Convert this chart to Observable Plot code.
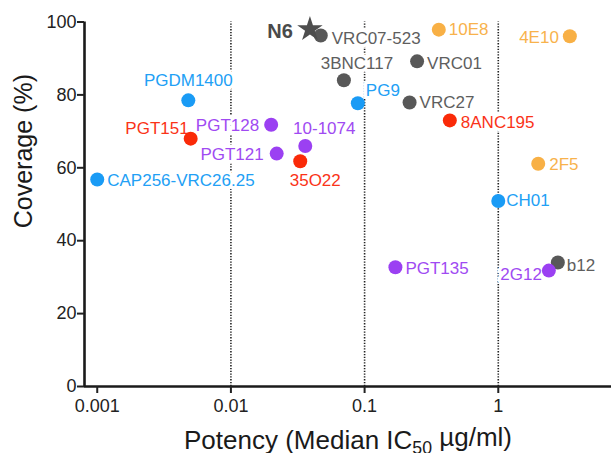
<!DOCTYPE html>
<html>
<head>
<meta charset="utf-8">
<script src="https://cdn.jsdelivr.net/npm/d3@7"></script>
<script src="https://cdn.jsdelivr.net/npm/@observablehq/plot@0.6"></script>
<style>
  html, body { margin: 0; padding: 0; background: #fff; }
  #chart svg { display: block; }
</style>
</head>
<body>
<div id="chart"></div>
<script>
// ---- data ----
const antibodies = ["N6","VRC07-523","3BNC117","VRC01","VRC27","b12",
  "PG9","PGDM1400","CAP256-VRC26.25","CH01",
  "PGT151","35O22","8ANC195",
  "PGT128","PGT121","10-1074","PGT135","2G12",
  "10E8","4E10","2F5"];
const potency = [0.039, 0.047, 0.070, 0.247, 0.217, 2.79,
  0.089, 0.0048, 0.001, 1.0,
  0.0050, 0.033, 0.434,
  0.020, 0.022, 0.036, 0.170, 2.39,
  0.359, 3.43, 1.99];
const coverage = [98, 96.3, 84, 89.2, 77.9, 34,
  77.7, 78.5, 56.8, 50.9,
  68, 61.8, 73,
  71.8, 63.9, 66, 32.7, 31.8,
  97.9, 96.1, 61.1];
const epitope = ["CD4bs","CD4bs","CD4bs","CD4bs","CD4bs","CD4bs",
  "V1V2","V1V2","V1V2","V1V2",
  "Interface","Interface","Interface",
  "Glycan","Glycan","Glycan","Glycan","Glycan",
  "MPER","MPER","MPER"];
const xTicks = [0.001, 0.01, 0.1, 1];
const yTicks = [0, 20, 40, 60, 80, 100];
const xTitle = "Potency (Median IC50 µg/ml)";
const yTitle = "Coverage (%)";

// ---- styling / layout ----
const colors = {CD4bs: "#585858", V1V2: "#1a9bf5", Interface: "#fa2a08", Glycan: "#9b40f2", MPER: "#f8b045"};
const textColors = {CD4bs: "#5e5e5e", V1V2: "#22a0f5", Interface: "#fa3318", Glycan: "#a04af2", MPER: "#f8b24c"};
// label placement: [dx, dy, anchor]
const labelPlace = {
  "N6": [-17, 2, "end"], "VRC07-523": [11, 3, "start"], "3BNC117": [13, -17, "middle"],
  "VRC01": [10, 2, "start"], "VRC27": [10, 0, "start"], "b12": [9, 3, "start"],
  "PG9": [8, -13, "start"], "PGDM1400": [0, -20, "middle"], "CAP256-VRC26.25": [10, 1, "start"],
  "CH01": [8, 0, "start"], "PGT151": [-2, -10, "end"], "35O22": [15, 19, "middle"],
  "8ANC195": [11, 2, "start"], "PGT128": [-12, 1, "end"], "PGT121": [-13, 1, "end"],
  "10-1074": [19, -17, "middle"], "PGT135": [10, 1, "start"], "2G12": [-7, 4, "end"],
  "10E8": [10, 0, "start"], "4E10": [-11, 1, "end"], "2F5": [11, 1, "start"]
};
const xDomain = [0.000803, 7.03];

const rows = antibodies.map((name, i) => ({
  name, x: potency[i], y: coverage[i], group: epitope[i],
  dx: labelPlace[name][0], dy: labelPlace[name][1], anchor: labelPlace[name][2]
}));
const circles = rows.filter(d => d.name !== "N6");
const star = rows.filter(d => d.name === "N6");
const font = "'Liberation Sans', Arial, Helvetica, sans-serif";

const labelMarks = [];
for (const anchor of ["start", "middle", "end"]) {
  for (const d of rows.filter(r => r.anchor === anchor)) {
    labelMarks.push(Plot.text([d], {
      x: "x", y: "y", text: "name",
      dx: d.dx, dy: d.dy, textAnchor: anchor,
      fill: d.name === "N6" ? "#4a4a4a" : textColors[d.group],
      fontSize: d.name === "N6" ? 20 : 17,
      fontWeight: d.name === "N6" ? "bold" : "normal",
      stroke: "white", strokeWidth: 7, paintOrder: "stroke", strokeLinejoin: "round"
    }));
  }
}

const chart = Plot.plot({
  width: 611, height: 453,
  marginTop: 21.5, marginBottom: 67, marginLeft: 84, marginRight: 0,
  style: {fontFamily: font, background: "white", color: "#222"},
  x: {type: "log", domain: xDomain, range: [84, 611]},
  y: {domain: [0, 100]},
  marks: [
    Plot.ruleX([0.01, 0.1, 1], {y1: 0, y2: 100, stroke: "#222", strokeWidth: 1.6, strokeDasharray: "1.3,1.5"}),
    ...labelMarks,
    Plot.dot(circles, {x: "x", y: "y", r: 7, fill: d => colors[d.group]}),
    Plot.dot(star, {x: "x", y: "y", r: 8, symbol: "star", fill: "#4e4e4e"}),
    Plot.ruleY([0], {stroke: "#1a1a1a", strokeWidth: 2.6}),
    Plot.ruleX([xDomain[0]], {y1: 0, y2: 100, stroke: "#1a1a1a", strokeWidth: 2.6}),
    Plot.axisX(xTicks, {tickSize: 7, tickPadding: 6, strokeWidth: 2, fontSize: 18, fill: "#222",
      tickFormat: d => String(d), label: null}),
    Plot.axisY(yTicks, {tickSize: 7, tickPadding: 1, strokeWidth: 2, fontSize: 18, fill: "#222", label: null}),
    Plot.text([yTitle], {frameAnchor: "left", rotate: -90, dx: -61, dy: 24, fontSize: 25, fill: "#1a1a1a"}),
    Plot.text([xTitle], {frameAnchor: "bottom", lineAnchor: "bottom", dy: 62, fontSize: 26, fill: "#1a1a1a"})
  ]
});

// subscript for IC50
d3.select(chart).selectAll("text").filter(function() { return this.textContent === xTitle; })
  .each(function() {
    const t = d3.select(this);
    t.text(null);
    t.append("tspan").text("Potency (Median IC");
    t.append("tspan").attr("dy", "0.3em").attr("font-size", "0.68em").text("50");
    t.append("tspan").attr("dy", "-0.3em").text(" µg/ml)");
  });

document.getElementById("chart").appendChild(chart);
</script>
</body>
</html>
